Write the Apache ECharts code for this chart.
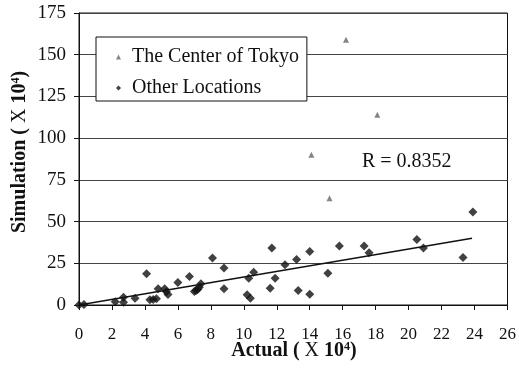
<!DOCTYPE html>
<html>
<head>
<meta charset="utf-8">
<script src="https://cdn.jsdelivr.net/npm/echarts@6/dist/echarts.min.js"></script>
<style>
html,body{margin:0;padding:0;background:#fff;}
#chart{width:519px;height:372px;}
</style>
</head>
<body>
<div id="chart"></div>
<script>
// Data (units: x 10^4)
const tokyoX = [16.2, 18.1, 14.1, 15.2];
const tokyoY = [159, 114, 90, 64];

const otherX = [0, 0.3, 2.2, 2.7, 2.7, 3.4, 4.1, 4.3, 4.5, 4.7, 4.8, 5.2, 5.4, 5.3, 6.0, 6.7, 7.0, 7.1, 7.2, 7.3, 7.4, 8.1, 8.8, 8.8, 10.2, 10.4, 10.3, 10.6, 11.6, 11.7, 11.9, 12.5, 13.2, 14.0, 13.3, 14.0, 15.1, 15.8, 17.3, 17.6, 20.5, 20.9, 23.3, 23.9];
const otherY = [0, 0.3, 2.0, 4.7, 1.7, 4.0, 18.7, 3.1, 3.3, 3.7, 9.7, 9.7, 6.3, 8.0, 13.5, 17.1, 8.1, 8.7, 9.3, 10.7, 12.7, 28.1, 22.1, 9.7, 6.1, 4.1, 16.1, 19.7, 10.1, 34.1, 16.1, 24.1, 27.3, 32.1, 8.7, 6.4, 19.1, 35.3, 35.3, 31.3, 39.3, 34.1, 28.4, 55.7];

const trendX = [0, 23.85];
const trendY = [0, 40];

const xTicks = [0, 2, 4, 6, 8, 10, 12, 14, 16, 18, 20, 22, 24, 26];
const yTicks = [0, 25, 50, 75, 100, 125, 150, 175];

const seriesNames = ['The Center of Tokyo', 'Other Locations'];
const rText = 'R = 0.8352';

const FONT = '"Liberation Serif", "DejaVu Serif", serif';
const zip = (xs, ys) => xs.map((x, i) => [x, ys[i]]);

const chart = echarts.init(document.getElementById('chart'), null, {renderer: 'canvas'});
chart.setOption({
  backgroundColor: '#fff',
  animation: false,
  grid: {left: 79, right: 8, top: 13, bottom: 67, show: true, borderColor: '#111', borderWidth: 1},
  xAxis: {
    type: 'value', min: xTicks[0], max: xTicks[xTicks.length - 1], interval: 2,
    axisLine: {show: true, lineStyle: {color: '#111', width: 1}},
    axisTick: {show: true, inside: false, length: 5, lineStyle: {color: '#111'}},
    axisLabel: {fontFamily: FONT, fontSize: 17, color: '#111', margin: 21},
    splitLine: {show: false}
  },
  yAxis: {
    type: 'value', min: yTicks[0], max: yTicks[yTicks.length - 1], interval: 25,
    axisLine: {show: true, lineStyle: {color: '#111', width: 1}},
    axisTick: {show: true, inside: false, length: 5, lineStyle: {color: '#111'}},
    axisLabel: {fontFamily: FONT, fontSize: 19, color: '#111', margin: 13},
    splitLine: {show: true, lineStyle: {color: '#444', width: 1}}
  },
  legend: {
    data: seriesNames,
    orient: 'vertical',
    left: 96, top: 37,
    padding: [10, 8, 3, 20],
    itemGap: 11,
    itemWidth: 5, itemHeight: 5,
    borderColor: '#111', borderWidth: 1,
    backgroundColor: '#fff',
    textStyle: {fontFamily: FONT, fontSize: 20, color: '#111', padding: [0, 0, 0, 6]}
  },
  series: [
    {
      name: seriesNames[0], type: 'scatter', data: zip(tokyoX, tokyoY),
      symbol: 'triangle', symbolSize: 6,
      itemStyle: {color: '#666'}
    },
    {
      name: seriesNames[1], type: 'scatter', data: zip(otherX, otherY),
      symbol: 'diamond', symbolSize: 9,
      itemStyle: {color: '#111'}
    },
    {
      name: 'trend', type: 'line', data: zip(trendX, trendY),
      showSymbol: false, symbol: 'none',
      lineStyle: {color: '#111', width: 1.5}, z: 1
    }
  ],
  graphic: [
    {
      type: 'text', left: 362, top: 152,
      style: {text: rText, font: '20px ' + FONT, fill: '#111'}
    },
    {
      type: 'text', x: 294, y: 351,
      style: {
        text: '{b|Actual ( }{x|X}{b| 10}{s|4}{b|)}',
        align: 'center', verticalAlign: 'middle',
        rich: {
          b: {fontFamily: FONT, fontSize: 20, fontWeight: 'bold', fill: '#111'},
          x: {fontFamily: FONT, fontSize: 20, fill: '#111'},
          s: {fontFamily: FONT, fontSize: 12, fontWeight: 'bold', fill: '#111', verticalAlign: 'top', lineHeight: 12, padding: [0, 0, 14, 0]}
        }
      }
    },
    {
      type: 'text', x: 20, y: 152, rotation: Math.PI / 2,
      style: {
        text: '{b|Simulation ( }{x|X}{b| 10}{s|4}{b|)}',
        align: 'center', verticalAlign: 'middle',
        rich: {
          b: {fontFamily: FONT, fontSize: 20, fontWeight: 'bold', fill: '#111'},
          x: {fontFamily: FONT, fontSize: 20, fill: '#111'},
          s: {fontFamily: FONT, fontSize: 12, fontWeight: 'bold', fill: '#111', verticalAlign: 'top', lineHeight: 12, padding: [0, 0, 14, 0]}
        }
      }
    }
  ]
});
</script>
</body>
</html>
